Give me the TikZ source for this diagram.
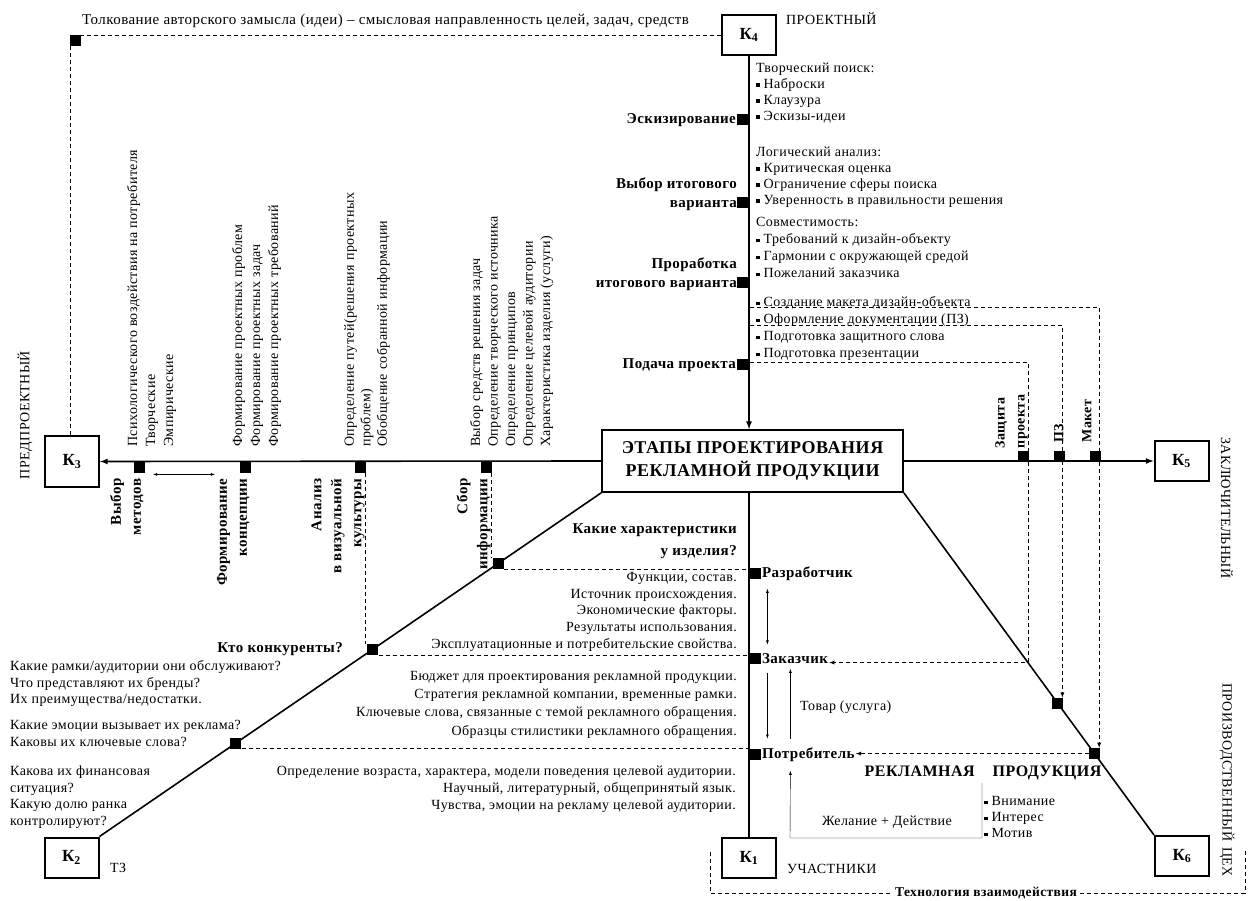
\documentclass[tikz,border=0pt]{standalone}
\usepackage{fontspec}
\setmainfont{Liberation Serif}[LetterSpace=3]
\usepackage{tikz}
\usetikzlibrary{arrows,calc}
\usetikzlibrary{positioning,shapes}
\tikzstyle{axline}=[-, line width=1.6pt]
\tikzstyle{dline}=[-, dash pattern=on 4pt off 3pt, line width=0.8pt]
\tikzstyle{kbox}=[rectangle, draw, line width=2pt, minimum width=54pt,
		minimum height=40pt, inner sep=0pt, font=\fontsize{17}{20}\selectfont\bfseries]
\tikzstyle{sq}=[rectangle, fill=black, minimum size=11pt, inner sep=0pt]
\tikzstyle{txt}=[inner sep=0pt, font=\fontsize{14}{17}\selectfont]
\tikzstyle{stage}=[inner sep=1pt, font=\fontsize{15}{19}\selectfont\bfseries]
\tikzstyle{vtxt}=[txt, rotate=90, anchor=north west, align=left,
		font=\fontsize{14}{18}\selectfont]
\tikzstyle{vstage}=[stage, rotate=90, anchor=south east, align=right,
		font=\fontsize{15}{20}\selectfont\bfseries]
\tikzstyle{side}=[inner sep=0pt, font=\fontsize{14}{16}\selectfont]
\newcommand{\bul}{\rule[1.5pt]{3.5pt}{3.5pt}\ }

\begin{document}
\begin{tikzpicture}[x=1pt,y=-1pt,>=latex]
    \useasboundingbox (0,0) rectangle (1254,901);

    \node (Main) [draw, line width=1.8pt, minimum width=301pt, minimum height=62pt,
    		      align=center, inner sep=0pt,
    		      font=\fontsize{18}{23}\selectfont\bfseries] at (752.5,461)
      {ЭТАПЫ ПРОЕКТИРОВАНИЯ\\РЕКЛАМНОЙ ПРОДУКЦИИ};

    \node (K4) [kbox] at (749,35) {К\textsubscript{4}};
    \node (K3) [kbox, minimum height=51pt] at (72,461.5) {К\textsubscript{3}};
    \node (K5) [kbox] at (1181.5,461) {К\textsubscript{5}};
    \node (K2) [kbox] at (71.5,857.5) {К\textsubscript{2}};
    \node (K1) [kbox] at (749,858) {К\textsubscript{1}};
    \node (K6) [kbox] at (1182,856) {К\textsubscript{6}};

    \draw[axline,->] (K4.south) -- (K4.south |- Main.north);
    \draw[axline] (K1.north |- Main.south) -- (K1.north);
    \draw[axline,->] (Main.west) -- (K3.east);
    \draw[axline,->] (Main.east) -- (K5.west);
    \draw[axline] (Main.south west) -- (K2.north east);
    \draw[axline] (Main.south east) -- (K6.north west);

    % stage names
    \node (Tolk) [txt, anchor=west, font=\fontsize{15}{17}\selectfont] at (82,21)
      {Толкование авторского замысла (идеи) -- смысловая направленность целей, задач, средств};
    \node (Prj) [side, anchor=west] at (786,19) {ПРОЕКТНЫЙ};
    \node (Pred) [side, rotate=90] at (25,415) {ПРЕДПРОЕКТНЫЙ};
    \node (Zakl) [side, rotate=-90] at (1227,508) {ЗАКЛЮЧИТЕЛЬНЫЙ};
    \node (Proiz) [side, rotate=-90] at (1227,780) {ПРОИЗВОДСТВЕННЫЙ\hspace{6pt}ЦЕХ};
    \node (Tz) [side, anchor=west] at (110,868) {ТЗ};
    \node (Uch) [side, anchor=west] at (787,869) {УЧАСТНИКИ};

    % project stage (K4)
    \node (SqEsk) [sq, anchor=east] at (748.5,120) {};
    \node (SqVyb) [sq, anchor=east] at (748.5,203) {};
    \node (SqPrb) [sq, anchor=east] at (748.5,283) {};
    \node (SqPod) [sq, anchor=east] at (748.5,365) {};
    \node (Esk) [stage, left=0pt of SqEsk] {Эскизирование};
    \node (Vyb) [stage, align=right, anchor=south east] at (738,212)
      {Выбор итогового\\варианта};
    \node (Prb) [stage, align=right, anchor=south east] at (738,292)
      {Проработка\\итогового варианта};
    \node (Pod) [stage, left=0pt of SqPod] {Подача проекта};

    \node (Tvp) [txt, anchor=north west, align=left, font=\fontsize{14}{16}\selectfont]
      at (756,62.5) {Творческий поиск:\\\bul Наброски\\\bul Клаузура\\\bul Эскизы-идеи};
    \node (Log) [txt, anchor=north west, align=left, font=\fontsize{14}{16}\selectfont]
      at (756,146.5) {Логический анализ:\\\bul Критическая оценка\\\bul Ограничение сферы поиска\\
        \bul Уверенность в правильности решения};
    \node (Sov) [txt, anchor=north west, align=left]
      at (756,217.5) {Совместимость:\\\bul Требований к дизайн-объекту\\
        \bul Гармонии с окружающей средой\\\bul Пожеланий заказчика};
    \node (Ofr) [txt, anchor=north west, align=left]
      at (756,296.5) {\bul Создание макета дизайн-объекта\\\bul Оформление  документации (ПЗ)\\
        \bul Подготовка защитного слова\\\bul Подготовка презентации};

    % pre-project stage (K3)
    \node (SqVm) [sq, anchor=north] at (139,462) {};
    \node (SqFk) [sq, anchor=north] at (245,462) {};
    \node (SqAn) [sq, anchor=north] at (360,462) {};
    \node (SqSb) [sq, anchor=north] at (486,462) {};
    \node (Vm) [vstage] at ([yshift=-4pt]SqVm.south east) {Выбор\\методов};
    \node (Fk) [vstage] at ([yshift=-4pt]SqFk.south east) {Формирование\\концепции};
    \node (An) [vstage] at ([yshift=-4pt]SqAn.south east) {Анализ\\в визуальной\\культуры};
    \node (Sb) [vstage] at ([yshift=-4pt]SqSb.south east) {Сбор\\информации};
    \draw[<->] ([xshift=8.5pt,yshift=-1pt]SqVm.south east)
      -- ([xshift=-24.5pt,yshift=-1pt]SqFk.south west);

    \node (Psy) [vtxt] at (127,447)
      {Психологического воздействия  на потребителя\\Творческие\\Эмпирические};
    \node (Fpp) [vtxt] at (232,447)
      {Формирование проектных проблем\\Формирование проектных задач\\
        Формирование проектных требований};
    \node (Opp) [vtxt, font=\fontsize{14}{16.5}\selectfont] at (344,447)
      {Определение путей(решения проектных\\проблем)\\Обобщение собранной информации};
    \node (Vsr) [vtxt, font=\fontsize{14}{17.5}\selectfont] at (470,447)
      {Выбор средств решения задач\\Определение творческого источника\\
        Определение принципов\\Определение целевой аудитории\\Характеристика изделия (услуги)};

    \node (SqTl) [sq, anchor=north west] at (70,35) {};
    \draw[dline] (K4.west) -- (K4.west -| SqTl.east);
    \draw[dline] (SqTl.south west) -- (SqTl.south west |- K3.north);

    % final stage (K5)
    \node (SqZp) [sq, anchor=south] at (1023,462) {};
    \node (SqPz) [sq, anchor=south] at (1059,462) {};
    \node (SqMk) [sq, anchor=south] at (1095,462) {};
    \node (Zp) [vstage, anchor=south west, align=left, font=\fontsize{14}{20}\selectfont\bfseries]
      at ([yshift=1pt]SqZp.north east) {Защита\\проекта};
    \node (Pz) [vstage, anchor=south west, align=left, font=\fontsize{14}{20}\selectfont\bfseries]
      at ([yshift=7pt]SqPz.north east) {ПЗ};
    \node (Mk) [vstage, anchor=south west, align=left, font=\fontsize{14}{20}\selectfont\bfseries]
      at ([xshift=-8pt,yshift=7pt]SqMk.north east) {Макет};

    % diagonals
    \node (SqSi) [sq] at ($(Main.south west)!0.205!(K2.north east)$) {};
    \node (SqKk) [sq] at ($(Main.south west)!0.455!(K2.north east)$) {};
    \node (SqKe) [sq] at ($(Main.south west)!0.728!(K2.north east)$) {};
    \node (SqPz2) [sq] at ($(Main.south east)!0.615!(K6.north west)$) {};
    \node (SqMk2) [sq] at ($(Main.south east)!0.762!(K6.north west)$) {};
    \coordinate (Zc) at ($(Main.south east)!0.496!(K6.north west)$);

    % participants (K1)
    \node (SqRaz) [sq, anchor=north west] at (749.5,568) {};
    \node (SqZak) [sq, anchor=north west] at (749.5,653) {};
    \node (SqPot) [sq, anchor=north west] at (749.5,749) {};
    \node (Raz) [stage, right=0pt of SqRaz] {Разработчик};
    \node (Zak) [stage, right=0pt of SqZak] {Заказчик};
    \node (Pot) [stage, right=0pt of SqPot] {Потребитель};

    \draw[<->] ([xshift=6.5pt,yshift=-7pt]Raz.south west)
      -- ([xshift=6.5pt,yshift=8pt]Zak.north west);
    \draw[->] ([xshift=6.5pt,yshift=-8pt]Zak.south west)
      -- ([xshift=6.5pt,yshift=8pt]Pot.north west);
    \draw[->] ([xshift=29.5pt,yshift=8pt]Pot.north west)
      -- ([xshift=29.5pt,yshift=-4pt]Zak.south west);
    \node (Tov) [txt, anchor=west] at (800,707) {Товар (услуга)};

    \coordinate (Lp) at (982,783);
    \coordinate (Lb) at (790,838);
    \draw[->] (Lp) |- (Lb) -- ([xshift=29.5pt,yshift=-8pt]Pot.south west);
    \node (Zhd) [txt] at (887,822) {Желание + Действие};
    \node (Aim) [txt, anchor=north west, align=left, font=\fontsize{14}{16}\selectfont]
      at (984,796.5) {\bul Внимание\\\bul Интерес\\\bul Мотив};
    \node (RP) [inner sep=0pt, font=\fontsize{16}{20}\selectfont\bfseries] at (983,773)
      {РЕКЛАМНАЯ\hspace{18pt}ПРОДУКЦИЯ};

    \node (Har) [stage, anchor=north east, align=right, font=\fontsize{15}{22}\selectfont\bfseries]
      at (738,522) {Какие характеристики\\у изделия?};
    \node (Fun) [txt, anchor=north east, align=right, font=\fontsize{14}{16.75}\selectfont]
      at (737,572) {Функции, состав.\\Источник происхождения.\\Экономические факторы.\\
        Результаты использования.\\Эксплуатационные и потребительские свойства.};
    \node (Bud) [txt, anchor=north east, align=right, font=\fontsize{14}{18.3}\selectfont]
      at (737,670.5) {Бюджет для проектирования рекламной продукции.\\
        Стратегия рекламной компании, временные рамки.\\
        Ключевые слова, связанные с темой рекламного обращения.\\
        Образцы стилистики рекламного обращения.};
    \node (Opr) [txt, anchor=north east, align=right]
      at (736,765.5) {Определение возраста, характера, модели поведения целевой аудитории.\\
        Научный, литературный, общепринятый  язык.\\
        Чувства, эмоции на рекламу целевой аудитории.};

    % competitors (K2)
    \node (Kk) [stage, anchor=east] at (344,649) {Кто конкуренты?};
    \node (Rmk) [txt, anchor=north west, align=left, font=\fontsize{14}{16.5}\selectfont]
      at (10,660.5) {Какие рамки/аудитории они обслуживают?\\Что представляют их бренды?\\
        Их преимущества/недостатки.};
    \node (Emo) [txt, anchor=north west, align=left, font=\fontsize{14}{16.5}\selectfont]
      at (10,720.5) {Какие эмоции вызывает их реклама?\\Каковы их ключевые слова?};
    \node (Fin) [txt, anchor=north west, align=left, font=\fontsize{14}{16.7}\selectfont]
      at (10,765.5) {Какова их финансовая\\ситуация?\\Какую долю ранка\\контролируют?};

    % dashed links
    \draw[dline] (SqAn.south east) -- (SqAn.south east |- SqKk.north);
    \draw[dline] (SqKk.south east) -- (SqKk.south east -| SqZak.west);
    \draw[dline] (SqSb.south east) -- (SqSb.south east |- SqSi.north);
    \draw[dline] (SqSi.south east) -- (SqSi.south east -| SqRaz.west);
    \draw[dline] (SqKe.south east) -- (SqKe.south east -| SqPot.west);

    \coordinate (Mk0) at (750,307);
    \coordinate (Pz0) at (750,325);
    \coordinate (Zp0) at (750,362);
    \draw[dline,->] (Mk0) -| ([xshift=-1pt]SqMk2.north east);
    \draw[dline,->] (Pz0) -| ([xshift=-1pt]SqPz2.north east);
    \draw[dline,->] (Zp0) -| (Zc) -- (Zc -| Zak.east);
    \draw[dline,->] (SqMk2.west) -- (SqMk2.west -| Pot.east);

    \node (Tech) [inner sep=3pt, font=\fontsize{13.5}{16}\selectfont\bfseries] at (986,893)
      {Технология взаимодействия};
    \coordinate (TL) at (710,852);
    \coordinate (TR) at (1245,850);
    \draw[dline] (TL) |- (Tech.west);
    \draw[dline] (Tech.east) -| (TR);

\end{tikzpicture}
\end{document}
